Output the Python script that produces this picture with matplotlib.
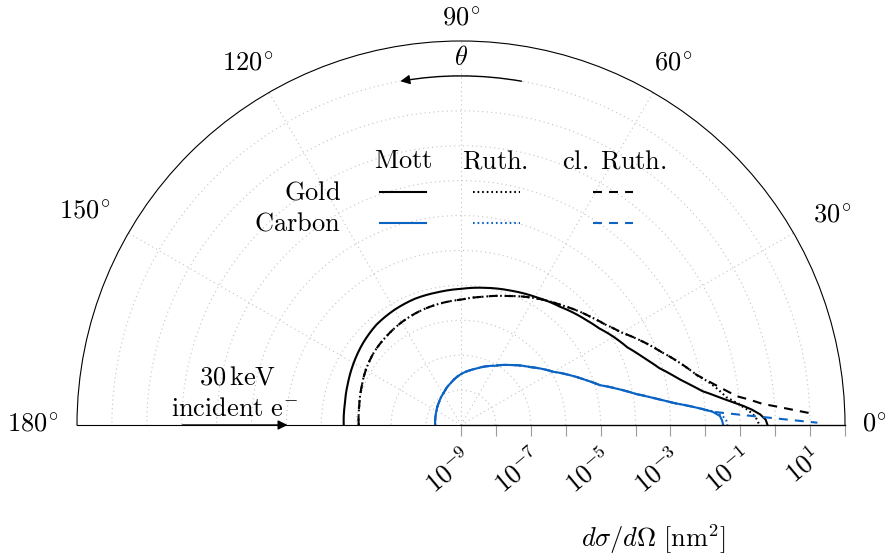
import numpy as np
import matplotlib
matplotlib.use("Agg")
import matplotlib.pyplot as plt
from matplotlib.lines import Line2D
from matplotlib.ticker import NullLocator

plt.rcParams['mathtext.fontset'] = 'cm'
plt.rcParams['font.size'] = 19

W, H = 886, 557

# scattering angle [deg] and d(sigma)/d(Omega) [nm^2]
theta_au_mott = [180, 170, 160, 150, 140, 130, 120, 110, 100, 90, 80, 70, 60, 50,
                 40, 35, 30, 25, 20, 16, 12, 10, 8, 6, 5, 4, 3, 2, 1, 0]
au_mott = [2.29e-6, 2.40e-6, 2.82e-6, 3.55e-6, 4.57e-6, 5.75e-6, 6.46e-6, 7.08e-6,
           7.24e-6, 7.94e-6, 9.77e-6, 1.26e-5, 1.74e-5, 2.63e-5, 4.79e-5, 6.76e-5,
           1.12e-4, 1.82e-4, 3.89e-4, 8.13e-4, 2.34e-3, 4.57e-3, 9.55e-3, 2.95e-2,
           5.62e-2, 0.117, 0.224, 0.380, 0.537, 0.603]

theta_au_ruth = [180, 170, 160, 150, 140, 130, 120, 110, 100, 90, 80, 70, 60, 50,
                 40, 35, 30, 25, 20, 15, 12, 10, 8, 6, 5, 4, 3, 2, 1, 0]
au_ruth = [8.51e-7, 9.12e-7, 1.10e-6, 1.41e-6, 1.78e-6, 2.09e-6, 2.51e-6, 2.95e-6,
           3.39e-6, 3.89e-6, 5.37e-6, 8.51e-6, 1.58e-5, 3.02e-5, 6.76e-5, 1.07e-4,
           2.00e-4, 5.01e-4, 1.29e-3, 3.98e-3, 7.94e-3, 1.51e-2, 2.63e-2, 4.37e-2,
           6.92e-2, 0.107, 0.170, 0.240, 0.309, 0.347]

theta_au_cl = [180, 170, 160, 150, 140, 130, 120, 110, 100, 90, 80, 70, 60, 50,
               40, 35, 30, 25, 20, 15, 12, 10, 8, 6, 5, 4, 3, 2, 1.9]
au_cl = [8.51e-7, 9.12e-7, 1.10e-6, 1.41e-6, 1.78e-6, 2.09e-6, 2.51e-6, 2.95e-6,
         3.39e-6, 3.89e-6, 5.37e-6, 8.51e-6, 1.58e-5, 3.02e-5, 6.76e-5, 1.07e-4,
         2.00e-4, 5.01e-4, 1.29e-3, 3.98e-3, 7.94e-3, 1.58e-2, 3.47e-2, 8.51e-2,
         0.200, 0.457, 1.86, 9.12, 10.7]

theta_c_mott = [180, 165, 150, 135, 120, 105, 90, 75, 60, 50, 40, 35, 30, 25, 20,
                16, 13, 10, 8, 6, 5, 4, 3, 2, 1, 0]
c_mott = [5.50e-9, 5.75e-9, 6.46e-9, 7.94e-9, 1.07e-8, 1.66e-8, 2.88e-8, 4.68e-8,
          9.12e-8, 1.74e-7, 3.80e-7, 6.46e-7, 1.12e-6, 2.51e-6, 6.03e-6, 1.38e-5,
          3.98e-5, 1.26e-4, 3.63e-4, 1.23e-3, 2.95e-3, 7.08e-3, 1.66e-2, 2.63e-2,
          3.02e-2, 3.24e-2]

theta_c_ruth = [180, 165, 150, 135, 120, 105, 90, 75, 60, 50, 40, 35, 30, 25, 20,
                16, 13, 10, 8, 6, 5, 4, 3, 2, 1, 0]
c_ruth = [5.50e-9, 5.75e-9, 6.46e-9, 7.94e-9, 1.07e-8, 1.66e-8, 2.88e-8, 4.68e-8,
          9.12e-8, 1.74e-7, 3.80e-7, 6.46e-7, 1.12e-6, 2.51e-6, 6.03e-6, 1.38e-5,
          3.98e-5, 1.26e-4, 3.63e-4, 1.23e-3, 2.95e-3, 7.08e-3, 1.82e-2, 3.16e-2,
          3.98e-2, 4.27e-2]

theta_c_cl = [180, 165, 150, 135, 120, 105, 90, 75, 60, 50, 40, 35, 30, 25, 20,
              16, 13, 10, 8, 6, 5, 4, 3, 2.1, 1.35, 0.8, 0.37]
c_cl = [5.50e-9, 5.75e-9, 6.46e-9, 7.94e-9, 1.07e-8, 1.66e-8, 2.88e-8, 4.68e-8,
        9.12e-8, 1.74e-7, 3.80e-7, 6.46e-7, 1.12e-6, 2.51e-6, 6.03e-6, 1.38e-5,
        3.98e-5, 1.26e-4, 3.63e-4, 1.23e-3, 2.95e-3, 7.08e-3, 1.66e-2, 9.55e-2,
        0.676, 3.47, 16.2]

angle_ticks = [0, 30, 60, 90, 120, 150, 180]
decades = list(range(-9, 3))
materials = ['Gold', 'Carbon']
models = ['Mott', 'Ruth.', 'cl. Ruth.']

BLUE = '#0b63c4'
SOLID = '-'
DOTTED = (0, (0.8, 1.4))
DASHED = (0, (4.3, 3.4))
GRID = '#c4c4c4'
TICK = '#9a9a9a'


def fig_xy(px, py):
    return px / W, 1 - py / H


fig = plt.figure(figsize=(W / 100, H / 100), dpi=100)

# half polar axes, centre at (461, 425) px, radius 384 px;
# the wedge is centred in a square box, so the box spans y = 233 +- 384 px
ax = fig.add_axes([77 / W, 1 - 617 / H, 768 / W, 768 / H], projection='polar')
ax.set_thetamin(0)
ax.set_thetamax(180)
ax.set_rscale('log')
ax.set_rlim(1e-9, 1e2)
ax.set_yticks([10.0 ** k for k in range(-8, 2)])
ax.set_yticklabels([])
ax.yaxis.set_minor_locator(NullLocator())
ax.tick_params(axis='y', length=0)
ax.set_xticks(np.radians(angle_ticks))
ax.set_xticklabels([])
ax.tick_params(axis='x', direction='out', length=7.5, width=0.8, color=TICK)
ax.grid(True, color=GRID, linestyle=(0, (1, 3)), linewidth=0.8)
ax.spines['polar'].set_linewidth(0.8)
for s in ['start', 'end', 'inner']:
    ax.spines[s].set_visible(False)

series = [
    (theta_au_mott, au_mott, 'black', SOLID),
    (theta_au_ruth, au_ruth, 'black', DOTTED),
    (theta_au_cl, au_cl, 'black', DASHED),
    (theta_c_mott, c_mott, BLUE, SOLID),
    (theta_c_ruth, c_ruth, BLUE, DOTTED),
    (theta_c_cl, c_cl, BLUE, DASHED),
]
for th, val, col, ls in series:
    ln, = ax.plot(np.radians(th), val, color=col, linestyle=ls, linewidth=1.5)
    # draw each segment as a curve in (theta, log r) instead of a chord
    ln.get_path()._interpolation_steps = 12

# angle labels, placed just outside the rim
label_place = {0: ((12.2, 0), 'left', 'center'),
               30: ((14.0, 7.6), 'left', 'baseline'),
               60: ((14.4, 16.1), 'center', 'baseline'),
               90: ((0, 11.5), 'center', 'baseline'),
               120: ((-15.5, 16.1), 'center', 'baseline'),
               150: ((-13.2, 10.6), 'right', 'baseline'),
               180: ((-13.5, 0), 'right', 'center')}
for a in angle_ticks:
    off, ha, va = label_place[a]
    ax.annotate(rf'${a}^{{\!\circ}}$', xy=(np.radians(a), 1e2), xytext=off,
                textcoords='offset points', ha=ha, va=va, annotation_clip=False)

# theta arrow along the 10^1 circle
ax.text(np.pi / 2, 10 ** 1.51, r'$\theta$', ha='center', va='center')
ax.annotate('', xy=(np.radians(100), 10.0), xytext=(np.radians(80), 10.0),
            arrowprops=dict(arrowstyle='-|>', connectionstyle='arc3,rad=0.087',
                            color='black', lw=1.0, mutation_scale=14,
                            shrinkA=0, shrinkB=0))

# incident beam
ax.annotate('', xy=(np.pi, 10 ** -4.03), xytext=(np.pi, 10 ** -1.02),
            arrowprops=dict(arrowstyle='-|>', color='black', lw=1.0,
                            mutation_scale=14, shrinkA=0, shrinkB=0))
ax.annotate(r'$30\,\mathrm{keV}$', xy=(np.pi, 10 ** -2.54), xytext=(1.4, 28.8),
            textcoords='offset points', ha='center', va='baseline')
ax.annotate(r'$\mathrm{incident\ e}^{-}$', xy=(np.pi, 10 ** -2.54), xytext=(-0.7, 6.5),
            textcoords='offset points', ha='center', va='baseline')

# radial log axis drawn along 0 deg
ax2 = fig.add_axes([461 / W, 1 - 425 / H, 384 / W, 384 / H])
ax2.patch.set_visible(False)
ax2.set_xscale('log')
ax2.set_xlim(1e-9, 1e2)
ax2.set_ylim(0, 1)
ax2.set_yticks([])
for s in ['top', 'left', 'right']:
    ax2.spines[s].set_visible(False)
ax2.spines['bottom'].set_linewidth(0.9)
ax2.set_xticks([10.0 ** k for k in decades])
ax2.set_xticklabels([rf'$10^{{{k}}}$' if k % 2 else '' for k in decades])
ax2.xaxis.set_minor_locator(NullLocator())
ax2.tick_params(axis='x', direction='out', length=8, width=0.8, color=TICK, pad=6)
for lbl in ax2.get_xticklabels():
    lbl.set_rotation(40)
    lbl.set_ha('right')
    lbl.set_va('top')
    lbl.set_rotation_mode('anchor')
ax2.set_xlabel(r'$d\sigma/d\Omega\ [\mathrm{nm}^2]$', va='center')
ax2.xaxis.set_label_coords(0.5, (425 - 539) / 384)

# legend as a small table
header_x = [403, 495.5, 614.5]
sample_x = [(380, 426), (473, 520), (593, 633)]
row_y = [199.3, 230.5]
line_y = [191.7, 223.3]
row_color = ['black', BLUE]
for name, hx in zip(models, header_x):
    fig.text(*fig_xy(hx, 168), rf'$\mathrm{{{name.replace(" ", chr(92) + " ")}}}$',
             ha='center', va='baseline')
for i, mat in enumerate(materials):
    fig.text(*fig_xy(341, row_y[i]), rf'$\mathrm{{{mat}}}$', ha='right', va='baseline')
    for (x0, x1), ls in zip(sample_x, [SOLID, DOTTED, DASHED]):
        (fx0, fy), (fx1, _) = fig_xy(x0, line_y[i]), fig_xy(x1, line_y[i])
        fig.add_artist(Line2D([fx0, fx1], [fy, fy], transform=fig.transFigure,
                              color=row_color[i], linestyle=ls, linewidth=1.5))

fig.savefig('out.png', dpi=100)
